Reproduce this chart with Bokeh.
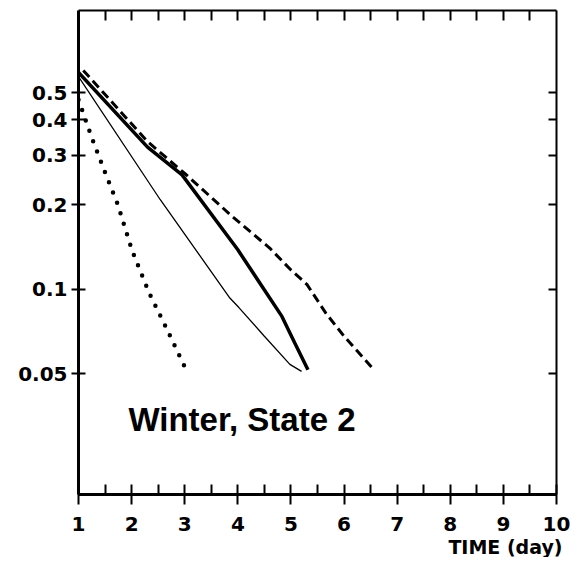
from bokeh.plotting import figure
from bokeh.models import Range1d, LinearAxis, LogAxis, FixedTicker, Label, Title, CustomJSTickFormatter
from bokeh.embed import file_html
from bokeh.resources import INLINE

# ---- data ----
x_ticks = [1, 2, 3, 4, 5, 6, 7, 8, 9, 10]
x_minor_ticks = [1.5, 2.5, 3.5, 4.5, 5.5, 6.5, 7.5, 8.5, 9.5]
top_ticks = [1.5, 2, 2.5, 3, 3.5, 4, 4.5, 5, 5.5, 6, 6.5, 7, 7.5, 8, 8.5, 9, 9.5]
y_ticks = [0.05, 0.1, 0.2, 0.3, 0.4, 0.5]

thick_x = [1.0, 2.3, 2.95, 4.0, 4.83, 5.07, 5.32]
thick_y = [0.59, 0.32, 0.255, 0.138, 0.080, 0.0645, 0.0517]

thin_x = [1.0, 2.54, 3.85, 4.02, 4.5, 4.98, 5.2]
thin_y = [0.57, 0.208, 0.093, 0.086, 0.068, 0.054, 0.051]

dashed_x = [1.09, 2.3, 3.0, 3.9, 4.6, 5.0, 5.3, 5.66, 6.0, 6.55]
dashed_y = [0.60, 0.335, 0.258, 0.181, 0.14, 0.117, 0.104, 0.082, 0.068, 0.052]

dotted_x = [1.0, 1.24, 1.48, 1.74, 2.01, 2.33, 2.62, 3.02]
dotted_y = [0.472, 0.35, 0.266, 0.2, 0.137, 0.097, 0.075, 0.052]

title_text = "Winter, State 2"
x_label = "TIME (day)"

TICK_FONT = "DejaVu Sans"

p = figure(frame_width=478, frame_height=484,
           x_range=Range1d(1, 10), y_range=Range1d(0.0186, 0.98),
           y_axis_type="log", output_backend="svg", toolbar_location=None,
           min_border_left=78, min_border_top=10, min_border_right=14, min_border_bottom=0,
           x_axis_location=None, y_axis_location=None)
p.grid.visible = False
p.outline_line_color = None
p.background_fill_color = "white"
p.border_fill_color = "white"

blank = CustomJSTickFormatter(code="return '';")
fmt = CustomJSTickFormatter(code="return tick.toString();")

# bottom axis
xb = LinearAxis(ticker=FixedTicker(ticks=x_ticks, minor_ticks=x_minor_ticks))
xb.axis_line_width = 3
xb.major_tick_in = 10
xb.major_tick_out = 10
xb.major_tick_line_width = 2
xb.minor_tick_in = 10
xb.minor_tick_out = 0
xb.minor_tick_line_width = 2
xb.major_label_text_font = TICK_FONT
xb.major_label_text_font_style = "bold"
xb.major_label_text_font_size = "20px"
xb.major_label_text_color = "black"
xb.major_label_standoff = 12
p.add_layout(xb, "below")
p.add_layout(Title(text=x_label, align="right", text_font=TICK_FONT, text_font_size="19px",
                   text_font_style="bold", text_color="black", standoff=0, offset=-6), "below")

# top axis (ticks only)
xt = LinearAxis(ticker=FixedTicker(ticks=top_ticks, minor_ticks=[]), formatter=blank)
xt.axis_line_width = 2
xt.major_tick_in = 10
xt.major_tick_out = 0
xt.major_tick_line_width = 2
xt.minor_tick_line_color = None
xt.major_label_standoff = 0
p.add_layout(xt, "above")

# left axis
yl = LogAxis(ticker=FixedTicker(ticks=y_ticks, minor_ticks=[]), formatter=fmt)
yl.axis_line_width = 3
yl.major_tick_in = 7
yl.major_tick_out = 7
yl.major_tick_line_width = 2
yl.minor_tick_line_color = None
yl.major_label_text_font = TICK_FONT
yl.major_label_text_font_style = "bold"
yl.major_label_text_font_size = "20px"
yl.major_label_text_color = "black"
yl.major_label_standoff = 4
p.add_layout(yl, "left")

# right axis (ticks only)
yr = LogAxis(ticker=FixedTicker(ticks=y_ticks, minor_ticks=[]), formatter=blank)
yr.axis_line_width = 2
yr.major_tick_in = 8
yr.major_tick_out = 0
yr.major_tick_line_width = 2
yr.minor_tick_line_color = None
yr.major_label_standoff = 0
p.add_layout(yr, "right")

# series
p.line(thin_x, thin_y, line_color="black", line_width=1.3)
p.line(thick_x, thick_y, line_color="black", line_width=3.5)
p.line(dashed_x, dashed_y, line_color="black", line_width=3, line_dash="9 5")
p.line(dotted_x, dotted_y, line_color="black", line_width=4.5, line_dash="0 11", line_cap="round")

p.add_layout(Label(x=1.94, y=0.0343, text=title_text, text_font="Liberation Sans",
                   text_font_style="bold", text_font_size="33px", text_color="black",
                   text_baseline="alphabetic"))

open("out.html", "w").write(file_html(p, INLINE))
